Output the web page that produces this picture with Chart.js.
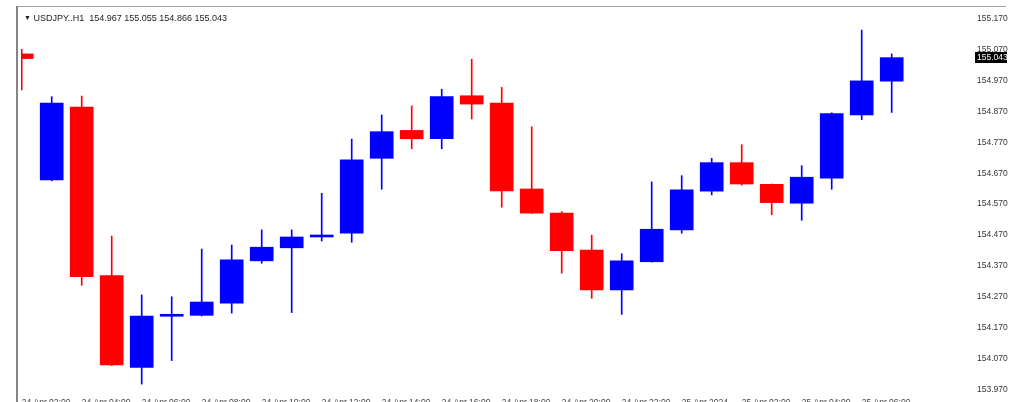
<!DOCTYPE html>
<html>
<head>
<meta charset="utf-8">
<script src="https://cdn.jsdelivr.net/npm/chart.js@4.4.1/dist/chart.umd.min.js"></script>
<style>
  html, body { margin: 0; padding: 0; background: #fff; overflow: hidden; }
  #wrap { position: relative; width: 1024px; height: 420px; }
  #title { position: absolute; left: 24px; top: 12px; font: 9px "Liberation Sans", Arial, sans-serif; line-height: 11px; color: #222; white-space: pre; }
  #title .arrow { font-size: 7px; vertical-align: 1px; }
</style>
</head>
<body>
<div id="wrap">
  <canvas id="chart" width="1024" height="420"></canvas>
  <div id="title"></div>
</div>
<script>
const symbol = 'USDJPY..H1';

const times = [
  '24 Apr 02:00', '24 Apr 03:00', '24 Apr 04:00', '24 Apr 05:00', '24 Apr 06:00',
  '24 Apr 07:00', '24 Apr 08:00', '24 Apr 09:00', '24 Apr 10:00', '24 Apr 11:00',
  '24 Apr 12:00', '24 Apr 13:00', '24 Apr 14:00', '24 Apr 15:00', '24 Apr 16:00',
  '24 Apr 17:00', '24 Apr 18:00', '24 Apr 19:00', '24 Apr 20:00', '24 Apr 21:00',
  '24 Apr 22:00', '24 Apr 23:00', '25 Apr 2024', '25 Apr 01:00', '25 Apr 02:00',
  '25 Apr 03:00', '25 Apr 04:00', '25 Apr 05:00', '25 Apr 06:00', '25 Apr 07:00'
];

const opens = [
  155.055, 154.648, 154.883, 154.339, 154.043, 154.208, 154.211, 154.250, 154.387, 154.429,
  154.464, 154.476, 154.718, 154.808, 154.781, 154.920, 154.896, 154.619, 154.541, 154.422,
  154.293, 154.384, 154.487, 154.612, 154.704, 154.634, 154.573, 154.654, 154.858, 154.967
];
const highs = [
  155.070, 154.917, 154.919, 154.467, 154.277, 154.271, 154.425, 154.438, 154.487, 154.487,
  154.605, 154.780, 154.858, 154.887, 154.941, 155.038, 154.947, 154.820, 154.546, 154.470,
  154.410, 154.642, 154.662, 154.718, 154.762, 154.635, 154.694, 154.865, 155.132, 155.055
];
const lows = [
  154.939, 154.645, 154.308, 154.049, 153.989, 154.065, 154.209, 154.218, 154.379, 154.220,
  154.451, 154.447, 154.618, 154.749, 154.749, 154.845, 154.560, 154.540, 154.347, 154.266,
  154.214, 154.383, 154.476, 154.600, 154.631, 154.536, 154.518, 154.618, 154.843, 154.866
];
const closes = [
  155.040, 154.896, 154.336, 154.051, 154.209, 154.210, 154.254, 154.390, 154.431, 154.464,
  154.466, 154.713, 154.804, 154.781, 154.917, 154.893, 154.613, 154.541, 154.420, 154.293,
  154.387, 154.489, 154.616, 154.704, 154.635, 154.575, 154.657, 154.862, 154.968, 155.043
];

const priceTicks = [
  153.970, 154.070, 154.170, 154.270, 154.370, 154.470, 154.570,
  154.670, 154.770, 154.870, 154.970, 155.070, 155.170
];
const timeTickIdx = [0, 2, 4, 6, 8, 10, 12, 14, 16, 18, 20, 22, 24, 26, 28];

const last = closes.length - 1;
const fontName = '"Liberation Sans", Arial, sans-serif';

document.getElementById('title').innerHTML =
  '<span class="arrow">\u25BC</span> ' + symbol + '  ' +
  [opens[last], highs[last], lows[last], closes[last]].map(v => v.toFixed(3)).join(' ');

const candleColors = closes.map((c, i) => c >= opens[i] ? '#0000ff' : '#ff0000');
const clipArea = { left: -4, top: 0, right: 0, bottom: 0 };

// gray frame on the left and top of the plot
const framePlugin = {
  id: 'frame',
  beforeDraw(chart) {
    const ctx = chart.ctx;
    const a = chart.chartArea;
    ctx.save();
    ctx.strokeStyle = '#a0a0a0';
    ctx.lineWidth = 1;
    ctx.beginPath();
    ctx.moveTo(a.left, a.top - 0.5);
    ctx.lineTo(a.right + 36, a.top - 0.5);
    ctx.stroke();
    ctx.strokeStyle = '#858585';
    ctx.lineWidth = 2;
    ctx.beginPath();
    ctx.moveTo(a.left, a.top - 1);
    ctx.lineTo(a.left, chart.height);
    ctx.stroke();
    ctx.restore();
  }
};

// black box with the last price on the right axis
const priceTagPlugin = {
  id: 'priceTag',
  afterDraw(chart) {
    const ctx = chart.ctx;
    const y = chart.scales.y.getPixelForValue(closes[last]);
    const x = chart.chartArea.right + 5;
    ctx.save();
    ctx.fillStyle = '#000';
    ctx.fillRect(x, Math.round(y) - 6, 32, 11);
    ctx.fillStyle = '#fff';
    ctx.font = '8.5px ' + fontName;
    ctx.textBaseline = 'middle';
    ctx.fillText(closes[last].toFixed(3), x + 2, Math.round(y) - 0.5);
    ctx.restore();
  }
};

new Chart(document.getElementById('chart'), {
  type: 'bar',
  data: {
    datasets: [
      {
        label: 'body',
        data: opens.map((o, i) => ({ x: i, y: [o, closes[i]] })),
        backgroundColor: candleColors,
        barThickness: 23,
        minBarLength: 2,
        grouped: false,
        order: 0,
        clip: clipArea
      },
      {
        label: 'wick',
        data: lows.map((l, i) => ({ x: i, y: [l, highs[i]] })),
        backgroundColor: candleColors,
        barThickness: 1,
        grouped: false,
        order: 1,
        clip: clipArea
      }
    ]
  },
  options: {
    responsive: false,
    animation: false,
    devicePixelRatio: 1,
    layout: { padding: { left: 17, top: 7, right: 0, bottom: 0 } },
    plugins: {
      legend: { display: false },
      tooltip: { enabled: false }
    },
    scales: {
      x: {
        type: 'linear',
        offset: false,
        min: -0.157,
        max: 31.61,
        grid: { display: false, drawTicks: false, offset: false },
        border: { display: false },
        afterBuildTicks: s => { s.ticks = timeTickIdx.map(v => ({ value: v })); },
        afterFit: s => { s.height = 24; s.paddingLeft = 0; s.paddingRight = 0; },
        ticks: {
          autoSkip: false,
          maxRotation: 0,
          align: 'start',
          padding: 2,
          color: '#444',
          font: { family: fontName, size: 8.5 },
          callback: v => times[v]
        }
      },
      y: {
        type: 'linear',
        position: 'right',
        min: 153.9506,
        max: 155.2065,
        beginAtZero: false,
        grid: { display: false, drawTicks: false },
        border: { display: false },
        afterBuildTicks: s => { s.ticks = priceTicks.map(v => ({ value: v })); },
        afterFit: s => { s.width = 54; s.paddingTop = 0; s.paddingBottom = 0; },
        ticks: {
          padding: 7,
          color: '#333',
          font: { family: fontName, size: 8.5 },
          callback: v => v.toFixed(3)
        }
      }
    }
  },
  plugins: [framePlugin, priceTagPlugin]
});
</script>
</body>
</html>
